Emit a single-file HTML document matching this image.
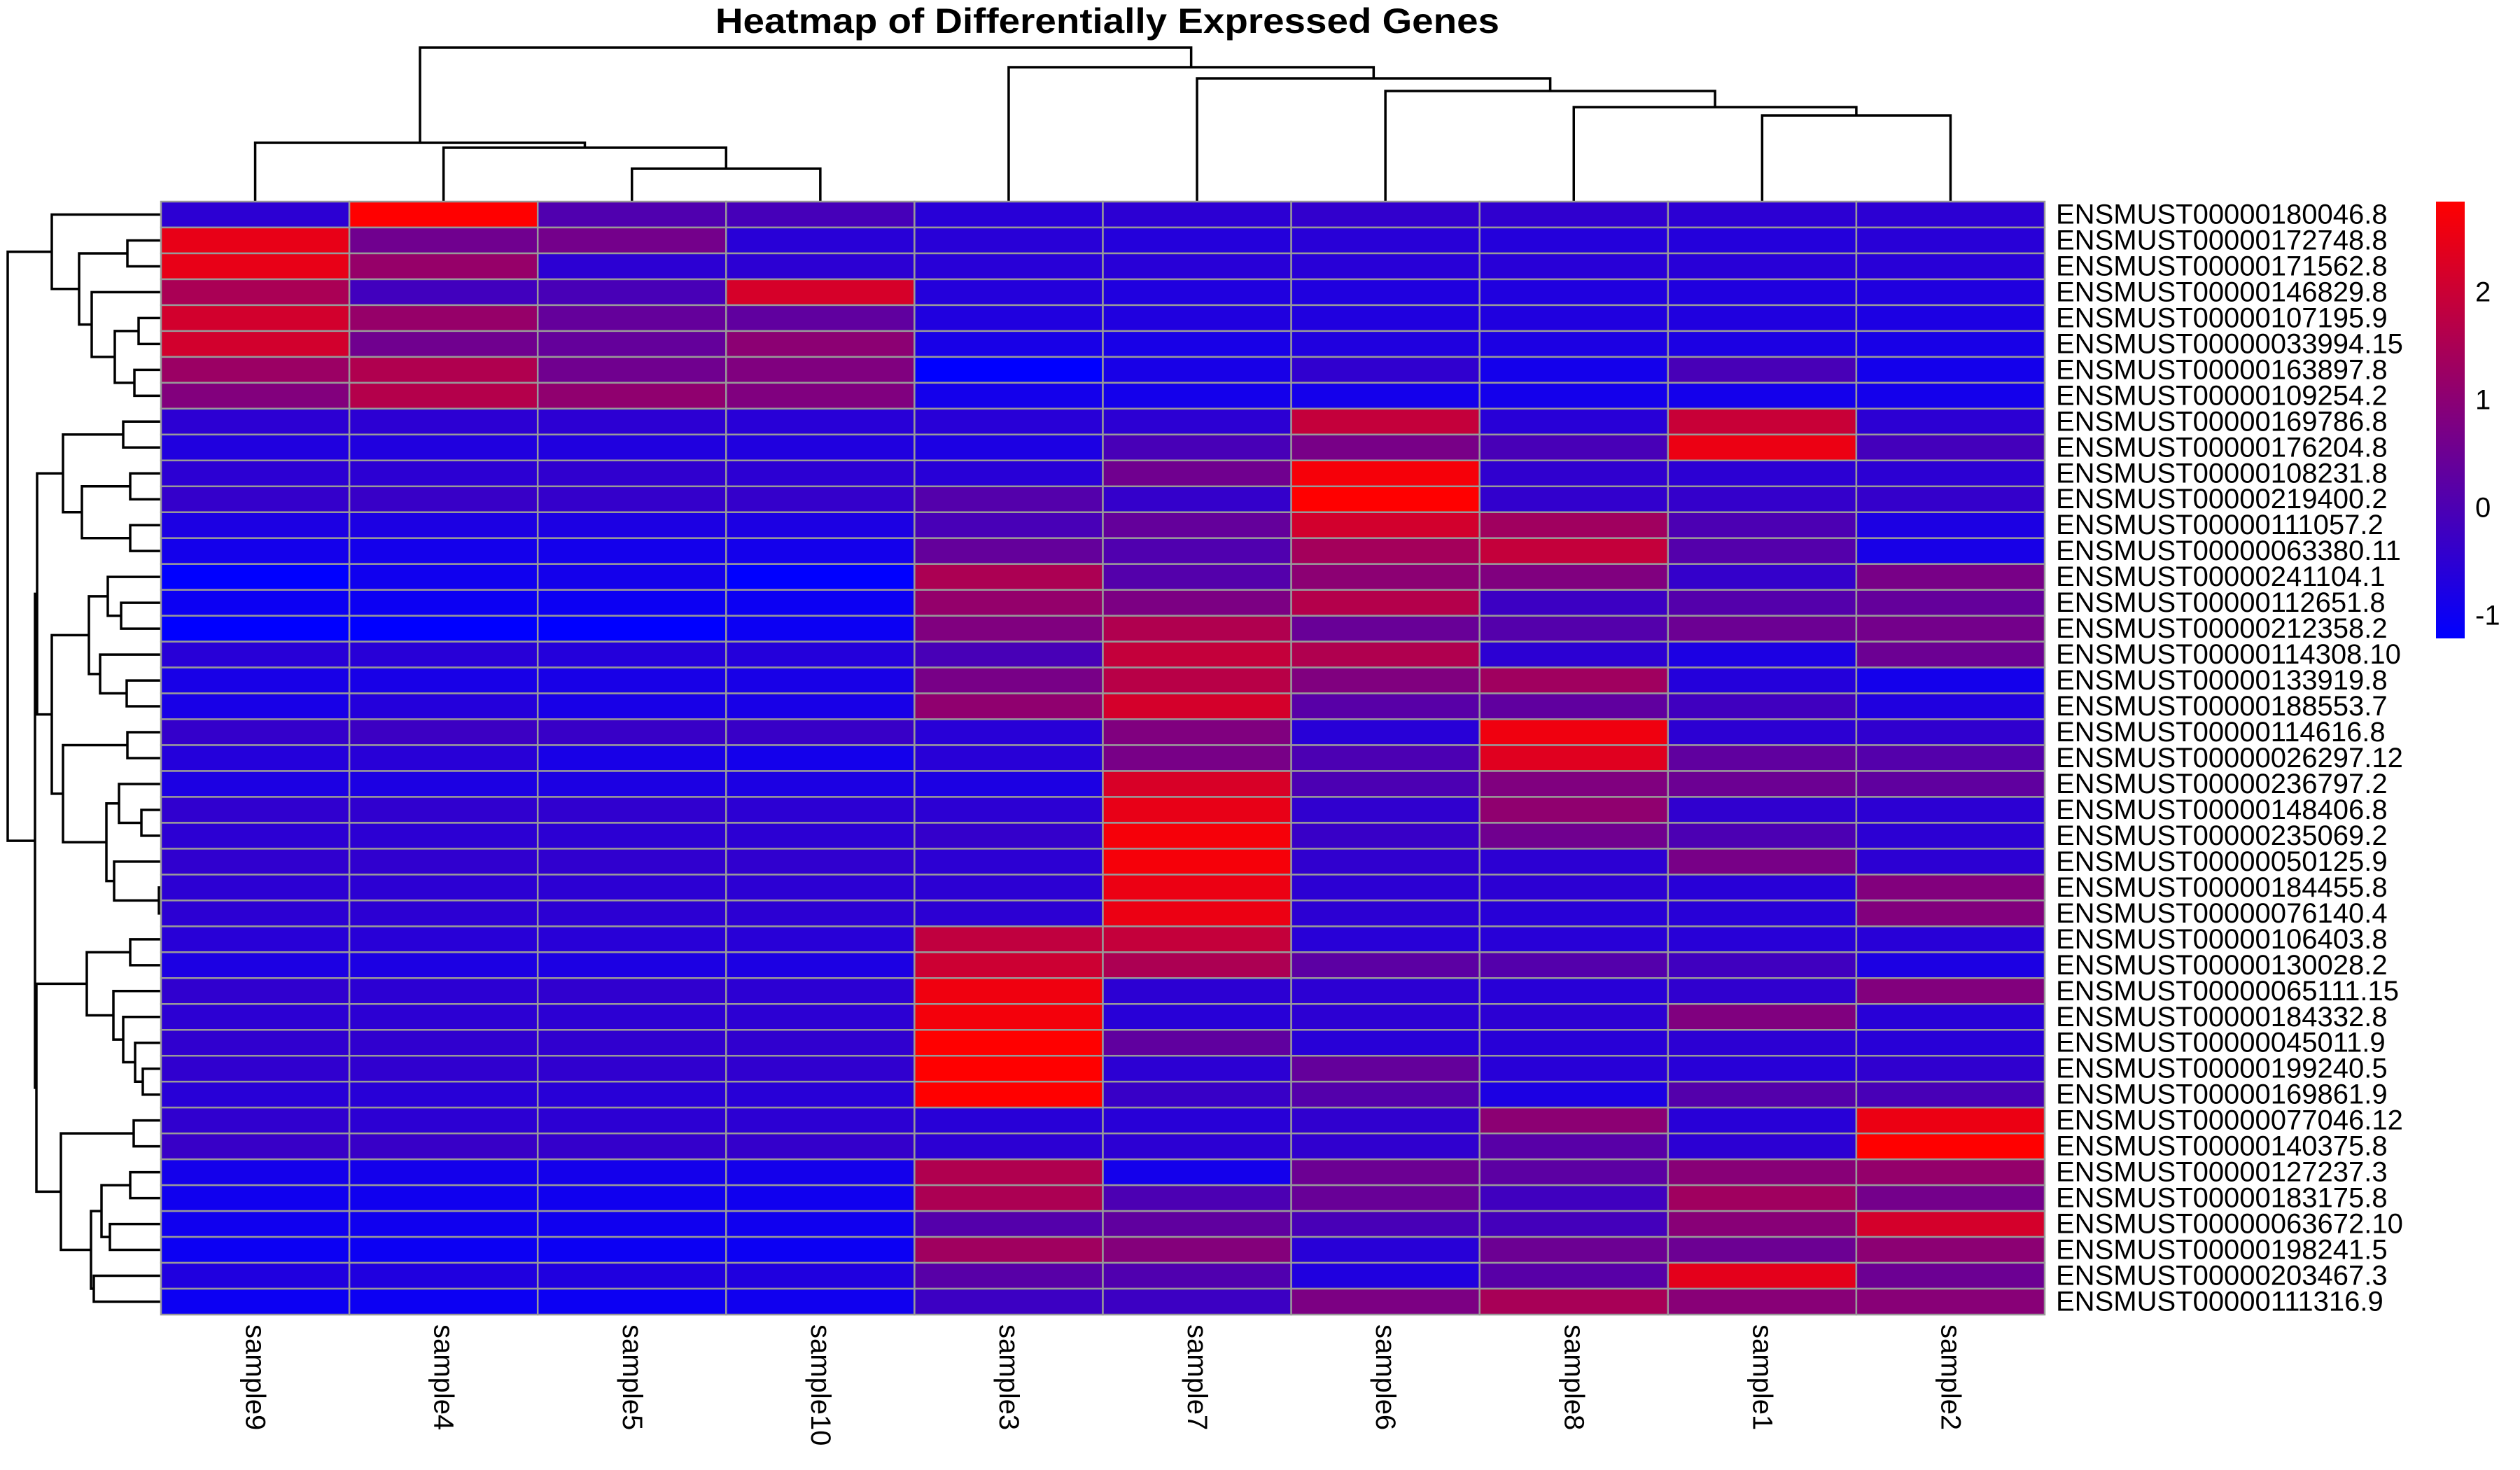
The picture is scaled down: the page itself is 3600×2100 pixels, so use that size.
<!DOCTYPE html>
<html><head><meta charset="utf-8"><title>Heatmap of Differentially Expressed Genes</title>
<style>html,body{margin:0;padding:0;background:#fff}svg{display:block}text{font-family:"Liberation Sans",Arial,sans-serif}</style>
</head><body>
<svg id="chart" xmlns="http://www.w3.org/2000/svg" width="3600" height="2100" viewBox="0 0 3600 2100">
<rect x="0" y="0" width="3600" height="2100" fill="#fff"/>
<text x="1022" y="47" font-size="50" font-weight="bold" textLength="1120" lengthAdjust="spacingAndGlyphs">Heatmap of Differentially Expressed Genes</text>
<g id="colDendro"></g>
<g id="rowDendro"></g>
<g id="cells"></g>
<g id="rowLabels"></g>
<g id="colLabels"></g>
<defs><linearGradient id="cbg" x1="0" y1="1" x2="0" y2="0"><stop offset="0" stop-color="#0000ff"/><stop offset="1" stop-color="#ff0000"/></linearGradient></defs>
<g id="legend">
<rect x="3480" y="288" width="41" height="624" fill="url(#cbg)"/>
</g>
</svg>
<script>
const samples = ["sample9","sample4","sample5","sample10","sample3","sample7","sample6","sample8","sample1","sample2"];
const genes = ["ENSMUST00000180046.8","ENSMUST00000172748.8","ENSMUST00000171562.8","ENSMUST00000146829.8","ENSMUST00000107195.9","ENSMUST00000033994.15","ENSMUST00000163897.8","ENSMUST00000109254.2","ENSMUST00000169786.8","ENSMUST00000176204.8","ENSMUST00000108231.8","ENSMUST00000219400.2","ENSMUST00000111057.2","ENSMUST00000063380.11","ENSMUST00000241104.1","ENSMUST00000112651.8","ENSMUST00000212358.2","ENSMUST00000114308.10","ENSMUST00000133919.8","ENSMUST00000188553.7","ENSMUST00000114616.8","ENSMUST00000026297.12","ENSMUST00000236797.2","ENSMUST00000148406.8","ENSMUST00000235069.2","ENSMUST00000050125.9","ENSMUST00000184455.8","ENSMUST00000076140.4","ENSMUST00000106403.8","ENSMUST00000130028.2","ENSMUST00000065111.15","ENSMUST00000184332.8","ENSMUST00000045011.9","ENSMUST00000199240.5","ENSMUST00000169861.9","ENSMUST00000077046.12","ENSMUST00000140375.8","ENSMUST00000127237.3","ENSMUST00000183175.8","ENSMUST00000063672.10","ENSMUST00000198241.5","ENSMUST00000203467.3","ENSMUST00000111316.9"];
const values = [
[-0.51,2.84,0.06,-0.10,-0.57,-0.51,-0.42,-0.45,-0.51,-0.51],
[2.47,0.57,0.63,-0.57,-0.57,-0.64,-0.57,-0.64,-0.64,-0.57],
[2.47,1.17,-0.51,-0.51,-0.57,-0.57,-0.57,-0.57,-0.57,-0.57],
[1.49,-0.18,-0.07,2.19,-0.64,-0.70,-0.70,-0.70,-0.70,-0.70],
[2.12,1.17,0.38,0.31,-0.70,-0.70,-0.70,-0.70,-0.70,-0.77],
[2.12,0.57,0.38,1.01,-0.83,-0.83,-0.70,-0.77,-0.77,-0.83],
[1.25,1.58,0.57,0.82,-1.21,-0.83,-0.45,-0.89,-0.07,-0.89],
[0.85,1.65,1.08,0.82,-0.89,-0.89,-0.89,-0.89,-0.89,-0.89],
[-0.51,-0.51,-0.51,-0.57,-0.57,-0.51,1.90,-0.57,1.97,-0.51],
[-0.70,-0.70,-0.70,-0.70,-0.77,-0.07,0.70,-0.07,2.54,-0.13],
[-0.51,-0.51,-0.45,-0.51,-0.57,0.57,2.70,-0.45,-0.51,-0.51],
[-0.38,-0.32,-0.38,-0.38,0.12,-0.38,2.84,-0.42,-0.38,-0.38],
[-0.77,-0.77,-0.77,-0.77,-0.07,0.38,2.12,1.33,0.00,-0.77],
[-0.89,-0.89,-0.89,-0.89,0.38,0.06,1.39,1.90,0.12,-0.83],
[-1.21,-0.96,-0.89,-1.21,1.52,0.12,1.01,0.82,-0.38,0.70],
[-1.02,-1.02,-1.02,-1.02,1.14,0.76,1.65,-0.26,0.12,0.38],
[-1.21,-1.21,-1.21,-1.02,0.82,1.58,0.44,0.12,0.50,0.63],
[-0.57,-0.57,-0.64,-0.64,-0.07,1.90,1.58,-0.51,-0.77,0.50],
[-0.83,-0.83,-0.83,-0.83,0.70,1.71,0.82,1.33,-0.64,-0.89],
[-0.83,-0.64,-0.83,-0.83,1.08,2.16,0.19,0.31,-0.19,-0.70],
[-0.38,-0.26,-0.32,-0.32,-0.57,0.82,-0.57,2.60,-0.51,-0.45],
[-0.64,-0.57,-0.83,-0.89,-0.57,0.70,0.00,2.35,0.31,0.12],
[-0.77,-0.77,-0.77,-0.77,-0.77,2.22,0.00,0.82,0.50,0.31],
[-0.45,-0.45,-0.45,-0.51,-0.51,2.47,-0.45,1.08,-0.45,-0.51],
[-0.51,-0.51,-0.51,-0.51,-0.38,2.70,-0.32,0.57,0.00,-0.51],
[-0.45,-0.45,-0.45,-0.45,-0.51,2.70,-0.45,-0.51,0.70,-0.51],
[-0.51,-0.51,-0.51,-0.51,-0.51,2.54,-0.51,-0.51,-0.57,0.85],
[-0.51,-0.51,-0.51,-0.51,-0.51,2.54,-0.51,-0.57,-0.57,0.85],
[-0.57,-0.57,-0.57,-0.57,1.84,1.90,-0.57,-0.57,-0.57,-0.57],
[-0.77,-0.77,-0.77,-0.77,2.03,1.52,0.25,0.12,-0.19,-0.77],
[-0.45,-0.51,-0.45,-0.51,2.60,-0.51,-0.51,-0.57,-0.45,0.85],
[-0.51,-0.51,-0.51,-0.51,2.66,-0.57,-0.51,-0.51,0.82,-0.57],
[-0.45,-0.45,-0.45,-0.45,2.84,0.31,-0.57,-0.57,-0.51,-0.57],
[-0.45,-0.45,-0.45,-0.45,2.84,-0.51,0.38,-0.57,-0.57,-0.45],
[-0.57,-0.57,-0.57,-0.57,2.84,-0.32,0.12,-0.77,0.12,-0.07],
[-0.45,-0.51,-0.51,-0.51,-0.57,-0.57,-0.45,1.01,-0.57,2.54],
[-0.32,-0.32,-0.38,-0.38,-0.51,-0.51,-0.45,0.19,-0.51,2.84],
[-0.89,-0.89,-0.89,-0.89,1.58,-0.89,0.50,0.25,0.95,1.14],
[-0.96,-0.96,-0.96,-0.96,1.52,0.00,0.44,-0.19,1.33,0.63],
[-0.96,-0.96,-0.96,-0.96,0.12,0.31,-0.07,-0.13,0.95,2.16],
[-1.02,-1.02,-1.02,-1.02,1.33,0.89,-0.57,0.50,0.50,1.01],
[-0.70,-0.70,-0.70,-0.70,0.19,0.06,-0.70,0.19,2.41,0.50],
[-1.02,-1.02,-1.02,-0.96,-0.26,-0.26,0.76,1.46,0.95,0.95]
];
const legendTicks = [2,1,0,-1];
const colorMin = -1.21, colorMax = 2.84;
// dendrograms: [left, right, mergeHeight]; leaves are indices
const colTree = [[0,[1,[2,3,4.6],7.6],8.3],[4,[5,[6,[7,[8,9,12.2],13.4],15.7],17.5],19.1],21.9];
const rowTree = [
 [0,[[1,2,4.7],[3,[[4,5,3.1],[6,7,3.7],6.5],9.8],11.6],15.5],
 [
  [[[8,9,5.3],[[10,11,4.3],[12,13,4.3],11.2],13.9],
   [[[14,[15,16,5.6],7.5],[17,[18,19,4.8],8.6],10.2],
    [[20,21,4.7],[[22,[23,24,2.7],5.9],[25,[26,27,0.2],6.6],7.7],13.9],15.5],17.6],
  [[[28,29,4.3],[30,[31,[32,[33,34,2.5],3.6],5.3],6.7],10.5],
   [[35,36,3.8],[[[37,38,4.3],[39,40,7.2],8.4],[41,42,9.5],9.9],14.2],17.7],
  17.9],
 21.8];

const NS = "http://www.w3.org/2000/svg";
const X0 = 230, X1 = 2921, Y0 = 288, Y1 = 1878;
const cw = (X1 - X0) / samples.length, rh = (Y1 - Y0) / genes.length;
const xCol = i => X0 + cw * i;
const yRow = i => Y0 + rh * i;
const colorOf = v => { const t = Math.max(0, Math.min(1, (v - colorMin) / (colorMax - colorMin))); return `rgb(${Math.round(255*t)},0,${Math.round(255*(1-t))})`; };
const yLegend = v => 912 - (v - colorMin) / (colorMax - colorMin) * 624;
const colH = h => Y0 - 1 - h * 10;
const rowH = h => X0 - 1 - h * 10;
function mk(tag, attrs, parent) { const e = document.createElementNS(NS, tag); for (const k in attrs) e.setAttribute(k, attrs[k]); parent.appendChild(e); return e; }

const cells = document.getElementById('cells');
values.forEach((row, r) => row.forEach((v, c) => {
  const rect = mk('rect', {x: xCol(c), y: yRow(r), width: cw, height: rh, fill: colorOf(v), stroke: '#999999', 'stroke-width': 2.5}, cells);
  
  
}));

const rl = document.getElementById('rowLabels');
genes.forEach((g, r) => {
  const t = mk('text', {x: 2937, y: yRow(r) + rh / 2, 'font-size': 40, 'dominant-baseline': 'central'}, rl);
  t.textContent = g;
  
  
});
const cl = document.getElementById('colLabels');
samples.forEach((s, c) => {
  const cx = xCol(c) + cw / 2, y = 1892;
  const t = mk('text', {x: cx, y: y, 'font-size': 40, 'dominant-baseline': 'central', transform: `rotate(90 ${cx} ${y})`}, cl);
  t.textContent = s;
  
  
});

const lg = document.getElementById('legend');
legendTicks.forEach(v => {
  const t = mk('text', {x: 3536, y: yLegend(v), 'font-size': 40, 'dominant-baseline': 'central'}, lg);
  t.textContent = String(v);
  
  
});

function drawTree(node, g, leafPos, hPos, vertical) {
  if (typeof node === 'number') return {p: leafPos(node), h: hPos(0)};
  const a = drawTree(node[0], g, leafPos, hPos, vertical);
  const b = drawTree(node[1], g, leafPos, hPos, vertical);
  const hh = hPos(node[2]);
  let d;
  if (vertical) d = `M${a.p},${a.h}V${hh}H${b.p}V${b.h}`;
  else d = `M${a.h},${a.p}H${hh}V${b.p}H${b.h}`;
  const path = mk('path', {d: d, fill: 'none', stroke: '#000', 'stroke-width': 3.5}, g);
  
  
  return {p: (a.p + b.p) / 2, h: hh};
}
drawTree(colTree, document.getElementById('colDendro'), i => xCol(i) + cw / 2, colH, true);
drawTree(rowTree, document.getElementById('rowDendro'), i => yRow(i) + rh / 2, rowH, false);
</script>
</body></html>
